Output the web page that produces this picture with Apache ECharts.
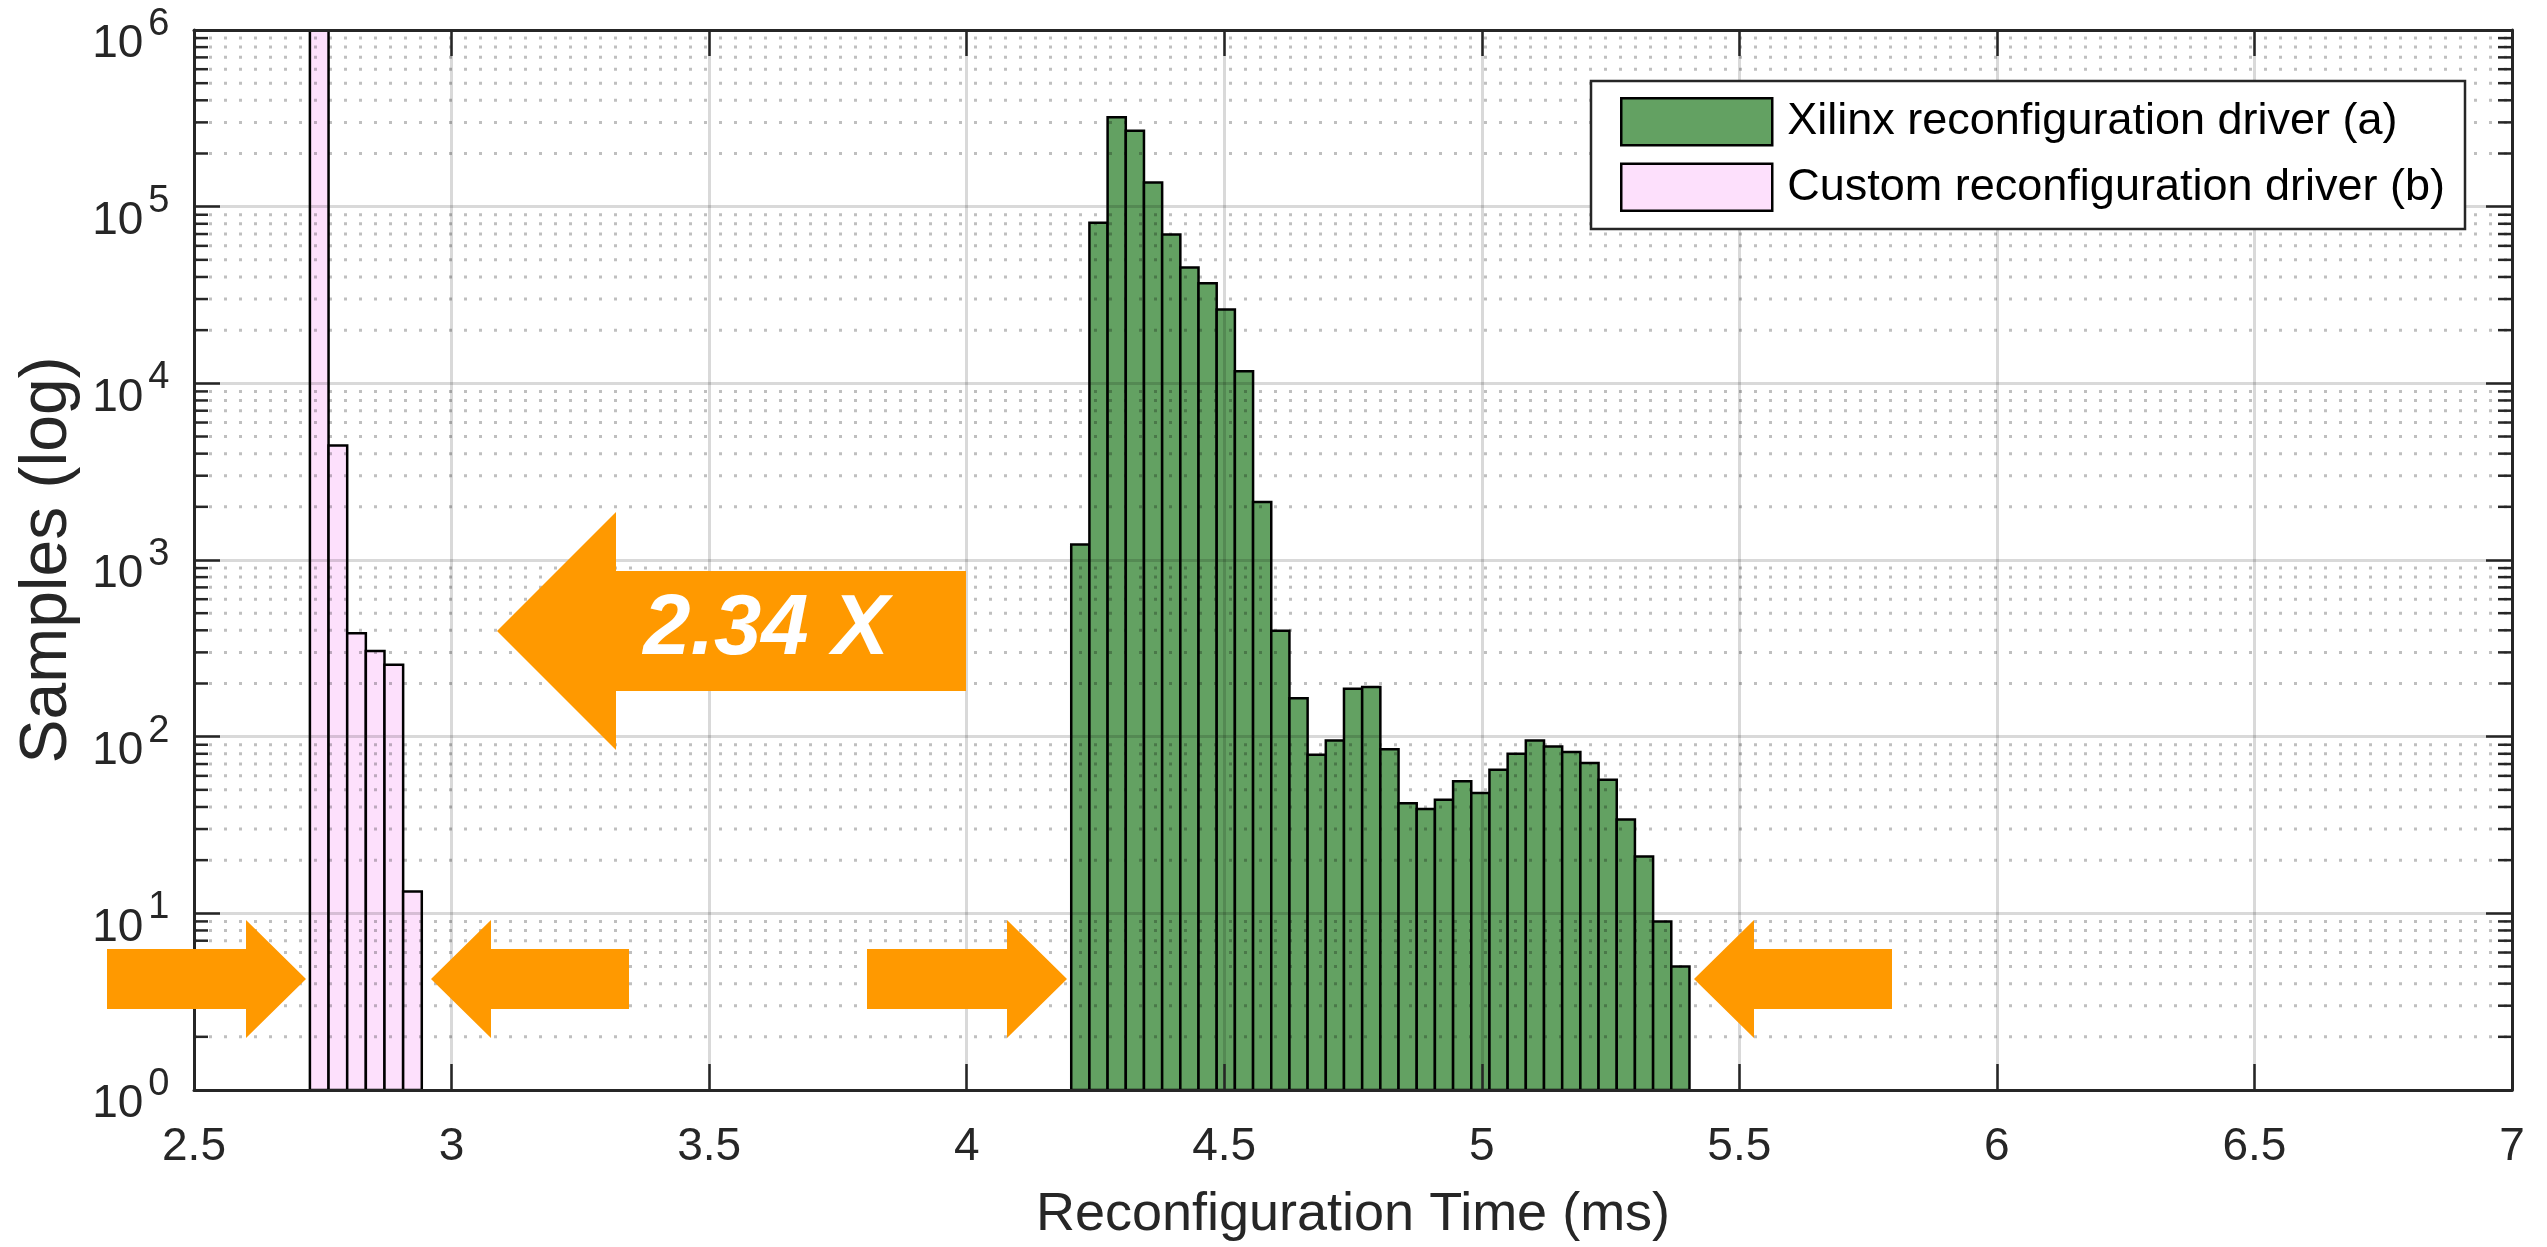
<!DOCTYPE html>
<html>
<head>
<meta charset="utf-8">
<script src="https://cdn.jsdelivr.net/npm/echarts@6/dist/echarts.min.js"></script>
<style>
  html, body { margin: 0; padding: 0; background: #fff; }
  #chart { width: 2547px; height: 1247px; }
</style>
</head>
<body>
<div id="chart"></div>
<script>
// histogram bins (ms) and sample counts
const xilinxName = 'Xilinx reconfiguration driver (a)'
const customName = 'Custom reconfiguration driver (b)'
const xilinxBinStart = 4.203
const xilinxBinWidth = 0.0353
const xilinxCounts = [1225, 81000, 321000, 269000, 137000, 69500, 45200, 36900, 26200, 11700,
  2130, 398, 165, 79, 95, 187, 191, 85, 42, 39, 44, 56, 48, 65, 80, 95, 88, 82, 71, 57, 34, 21, 9, 5]
const customBinStart = 2.725
const customBinWidth = 0.0362
const customCounts = [1000000, 4450, 385, 305, 255, 13.3]

const xMin = 2.5, xMax = 7, xStep = 0.5
const yMin = 1, yMax = 1e6
const decades = [0, 1, 2, 3, 4, 5]
const minorMult = [2, 3, 4, 5, 6, 7, 8, 9]

const ink = '#262626'
const font = 'Liberation Sans, Arial, Helvetica, sans-serif'
const greenFill = '#63a162'
const pinkFill = '#fde0fc'
const orange = '#ff9900'

function bins(start, w, counts) {
  return counts.map((c, i) => [start + i * w, start + (i + 1) * w, c])
}

const minorVals = []
decades.forEach(k => minorMult.forEach(m => minorVals.push([xMin, m * Math.pow(10, k)])))

function histItem(fill) {
  return function (params, api) {
    const top = api.coord([api.value(0), api.value(2)])
    const bot = api.coord([api.value(1), yMin])
    return {
      type: 'rect',
      shape: { x: top[0], y: top[1], width: bot[0] - top[0], height: bot[1] - top[1] },
      style: { fill: fill, stroke: '#000', lineWidth: 2.5 },
    }
  }
}

function minorItem(params, api) {
  const a = api.coord([xMin, api.value(1)])
  const b = api.coord([xMax, api.value(1)])
  return {
    type: 'group',
    children: [
      { type: 'line', shape: { x1: a[0], y1: a[1], x2: b[0], y2: b[1] },
        style: { stroke: 'rgba(0,0,0,0.25)', lineWidth: 3, lineDash: [3, 12] } },
      { type: 'line', shape: { x1: a[0], y1: a[1], x2: a[0] + 14, y2: a[1] },
        style: { stroke: ink, lineWidth: 2.5 } },
      { type: 'line', shape: { x1: b[0] - 14, y1: b[1], x2: b[0], y2: b[1] },
        style: { stroke: ink, lineWidth: 2.5 } },
    ],
  }
}

// orange arrows: tail x, head base x, tip x, centre y, shaft half height, head half height
function arrow(x0, xb, tip, cy, sh, hh) {
  return {
    type: 'polygon', z: 20,
    shape: { points: [[x0, cy - sh], [xb, cy - sh], [xb, cy - hh], [tip, cy], [xb, cy + hh], [xb, cy + sh], [x0, cy + sh]] },
    style: { fill: orange },
  }
}

const chart = echarts.init(document.getElementById('chart'))

const axisCommon = {
  axisLine: { show: true, lineStyle: { color: ink, width: 3 } },
  axisTick: { show: true, inside: true, length: 26, lineStyle: { color: ink, width: 2.5 } },
}

chart.setOption({
  animation: false,
  backgroundColor: '#fff',
  textStyle: { fontFamily: font },
  grid: { left: 194, right: 35, top: 30, bottom: 157 },
  legend: {
    orient: 'vertical', left: 1591, top: 81, z: 10,
    padding: [16, 20, 17, 29], itemGap: 16,
    itemWidth: 151, itemHeight: 47,
    backgroundColor: '#fff', borderColor: ink, borderWidth: 2.5,
    textStyle: { fontSize: 45, color: '#000', fontFamily: font, padding: [0, 0, 0, 10] },
    data: [
      { name: xilinxName, icon: 'rect', itemStyle: { color: greenFill, borderColor: '#000', borderWidth: 2.5 } },
      { name: customName, icon: 'rect', itemStyle: { color: pinkFill, borderColor: '#000', borderWidth: 2.5 } },
    ],
  },
  xAxis: [
    {
      type: 'value', min: xMin, max: xMax, interval: xStep, position: 'bottom', z: 5,
      ...axisCommon,
      axisLabel: { fontSize: 46, color: ink, margin: 34, fontFamily: font },
      splitLine: { show: true, lineStyle: { color: 'rgba(0,0,0,0.15)', width: 3 } },
      name: 'Reconfiguration Time (ms)', nameLocation: 'middle', nameGap: 98,
      nameTextStyle: { fontSize: 54, color: ink, fontFamily: font },
    },
    {
      type: 'value', min: xMin, max: xMax, interval: xStep, position: 'top', z: 5,
      ...axisCommon,
      axisLabel: { show: false }, splitLine: { show: false },
    },
  ],
  yAxis: [
    {
      type: 'log', logBase: 10, min: yMin, max: yMax, splitNumber: 6, position: 'left', z: 5,
      ...axisCommon,
      axisLabel: {
        margin: 24, padding: [13, 0, 0, 0],
        formatter: v => '{b|10}{e|' + Math.round(Math.log10(v)) + '}{s| }',
        rich: {
          b: { fontSize: 46, lineHeight: 46, color: ink, fontFamily: font, verticalAlign: 'bottom' },
          e: { fontSize: 38, lineHeight: 38, color: ink, fontFamily: font, padding: [0, 0, 0, 5], verticalAlign: 'top' },
          s: { fontSize: 2, lineHeight: 62, verticalAlign: 'middle' },
        },
      },
      splitLine: { show: true, lineStyle: { color: 'rgba(0,0,0,0.15)', width: 3 } },
      name: 'Samples (log)', nameLocation: 'middle', nameGap: 113,
      nameTextStyle: { fontSize: 66, color: ink, fontFamily: font },
    },
    {
      type: 'log', logBase: 10, min: yMin, max: yMax, splitNumber: 6, position: 'right', z: 5,
      ...axisCommon,
      axisLabel: { show: false }, splitLine: { show: false },
    },
  ],
  series: [
    {
      name: xilinxName, type: 'custom', clip: true, z: 2,
      itemStyle: { color: greenFill, borderColor: '#000', borderWidth: 2.5 },
      encode: { x: [0, 1], y: 2 },
      renderItem: histItem(greenFill),
      data: bins(xilinxBinStart, xilinxBinWidth, xilinxCounts),
    },
    {
      name: customName, type: 'custom', clip: true, z: 2,
      itemStyle: { color: pinkFill, borderColor: '#000', borderWidth: 2.5 },
      encode: { x: [0, 1], y: 2 },
      renderItem: histItem(pinkFill),
      data: bins(customBinStart, customBinWidth, customCounts),
    },
    {
      name: 'minor', type: 'custom', z: 4, silent: true,
      encode: { x: 0, y: 1 },
      renderItem: minorItem,
      data: minorVals,
    },
  ],
  graphic: [
    arrow(966, 616, 497, 631, 60, 119),
    arrow(107, 246, 306, 979, 30, 59),
    arrow(629, 491, 431, 979, 30, 59),
    arrow(867, 1007, 1067, 979, 30, 59),
    arrow(1892, 1754, 1694, 979, 30, 59),
    {
      type: 'text', z: 21, x: 766, y: 631,
      style: {
        text: '2.34 X', fill: '#fff', font: 'italic bold 85px ' + font,
        textAlign: 'center', textVerticalAlign: 'middle',
      },
    },
  ],
})
</script>
</body>
</html>
